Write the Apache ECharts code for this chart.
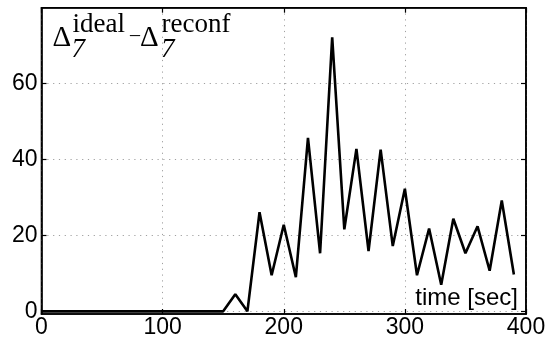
<!DOCTYPE html>
<html><head><meta charset="utf-8">
<script src="https://cdn.jsdelivr.net/npm/echarts@6/dist/echarts.min.js"></script>
<style>html,body{margin:0;padding:0;background:#fff}#c{width:551px;height:339px}</style>
</head><body><div id="c"></div>
<script>
const timeSec = [0,10,20,30,40,50,60,70,80,90,100,110,120,130,140,150,160,170,180,190,200,210,220,230,240,250,260,270,280,290,300,310,320,330,340,350,360,370,380,390];
const deltaDiff = [0,0,0,0,0,0,0,0,0,0,0,0,0,0,0,0,4.5,0,26.1,9.5,22.8,9.0,45.7,15.3,72.2,21.6,42.8,15.9,42.6,17.2,32.3,9.5,21.8,7.0,24.4,15.3,22.4,10.7,29.2,9.7];
const xTicks = [0,100,200,300,400];
const yTicks = [0,20,40,60];
const xLabel = 'time [sec]';

const chart = echarts.init(document.getElementById('c'), null, {renderer:'canvas'});
const serif = '"Liberation Serif", "Times New Roman", serif';
const sans = '"Liberation Sans", Arial, sans-serif';
const gridStyle = {color:'#a0a0a0', type:[1.2,4.6], width:1};
const axisLineStyle = {color:'#000', width:1.6};
const tickStyle = {color:'#000', width:1.2};
chart.setOption({
  animation:false,
  backgroundColor:'#fff',
  grid:{left:41.5, right:25, top:7.7, bottom:24.6, show:true, borderColor:'#000', borderWidth:1.6, backgroundColor:'transparent'},
  xAxis:[{
    type:'value', min:0, max:400, interval:100, position:'bottom',
    axisLine:{show:true, onZero:false, lineStyle:axisLineStyle},
    axisTick:{show:true, inside:true, length:5, lineStyle:tickStyle},
    axisLabel:{color:'#000', fontFamily:sans, fontSize:23, margin:2, customValues:xTicks},
    splitLine:{show:true, lineStyle:gridStyle}
  },{
    type:'value', min:0, max:400, interval:100, position:'top',
    axisLine:{show:true, onZero:false, lineStyle:axisLineStyle},
    axisTick:{show:true, inside:true, length:5, lineStyle:tickStyle},
    axisLabel:{show:false}, splitLine:{show:false}
  }],
  yAxis:[{
    type:'value', min:-0.7, max:80, position:'left',
    axisLine:{show:true, onZero:false, lineStyle:axisLineStyle},
    axisTick:{show:true, inside:true, length:5, lineStyle:tickStyle, customValues:yTicks},
    axisLabel:{color:'#000', fontFamily:sans, fontSize:23, margin:4, customValues:yTicks},
    splitLine:{show:true, lineStyle:gridStyle}
  },{
    type:'value', min:-0.7, max:80, position:'right',
    axisLine:{show:true, onZero:false, lineStyle:axisLineStyle},
    axisTick:{show:true, inside:true, length:5, lineStyle:tickStyle, customValues:yTicks},
    axisLabel:{show:false, customValues:yTicks}, splitLine:{show:false}
  }],
  series:[{
    type:'line', xAxisIndex:0, yAxisIndex:0,
    data: timeSec.map((t,i)=>[t, deltaDiff[i]]),
    showSymbol:false, symbol:'none',
    lineStyle:{color:'#000', width:2.6}, itemStyle:{color:'#000'}
  }],
  graphic:[
    {type:'text', style:{x:52.5, y:38.5, text:'Δ', font:'29px '+serif, fill:'#000', verticalAlign:'middle'}},
    {type:'text', style:{x:72.5, y:25.2, text:'ideal', font:'27px '+serif, fill:'#000', verticalAlign:'middle'}},
    {type:'text', style:{x:71.5, y:50, text:'7', font:'italic 27px '+serif, fill:'#000', verticalAlign:'middle'}},
    {type:'text', style:{x:130, y:36, text:'–', font:'20px '+serif, fill:'#000', verticalAlign:'middle'}},
    {type:'text', style:{x:140, y:38.5, text:'Δ', font:'29px '+serif, fill:'#000', verticalAlign:'middle'}},
    {type:'text', style:{x:161.5, y:25.2, text:'reconf', font:'27px '+serif, fill:'#000', verticalAlign:'middle'}},
    {type:'text', style:{x:161, y:50, text:'7', font:'italic 27px '+serif, fill:'#000', verticalAlign:'middle'}},
    {type:'text', style:{x:518, y:298, text:xLabel, font:'24px '+sans, fill:'#000', align:'right', verticalAlign:'middle'}}
  ]
});
</script></body></html>
